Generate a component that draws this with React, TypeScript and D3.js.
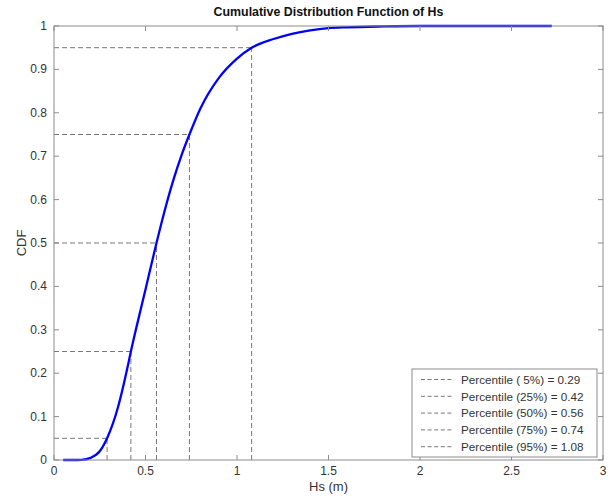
import React from "react";
import * as d3 from "d3";

// Empirical CDF of significant wave height Hs (m)
const hsValues = [0.05, 0.1, 0.15, 0.2, 0.25, 0.29, 0.35, 0.4, 0.42, 0.45, 0.5, 0.56, 0.6, 0.65, 0.7, 0.74, 0.8, 0.9, 1.0, 1.08, 1.2, 1.3, 1.4, 1.5, 1.6, 1.8, 2.0, 2.72];
const cdfValues = [0, 0, 0.0005, 0.005, 0.02, 0.05, 0.122, 0.21, 0.25, 0.305, 0.393, 0.5, 0.567, 0.642, 0.706, 0.75, 0.81, 0.88, 0.925, 0.95, 0.97, 0.982, 0.99, 0.995, 0.997, 0.999, 1.0, 1.0];

// Percentile markers
const percentileLevels = [0.05, 0.25, 0.5, 0.75, 0.95];
const percentileHs = [0.29, 0.42, 0.56, 0.74, 1.08];
const percentileLabels = ["Percentile ( 5%) = 0.29", "Percentile (25%) = 0.42", "Percentile (50%) = 0.56", "Percentile (75%) = 0.74", "Percentile (95%) = 1.08"];

const xTicks = [0, 0.5, 1, 1.5, 2, 2.5, 3];
const yTicks = [0, 0.1, 0.2, 0.3, 0.4, 0.5, 0.6, 0.7, 0.8, 0.9, 1];

const W = 611;
const H = 500;
const plot = { left: 54, right: 603, top: 26, bottom: 460 };

export default function App() {
  const x = d3.scaleLinear().domain([0, 3]).range([plot.left, plot.right]);
  const y = d3.scaleLinear().domain([0, 1]).range([plot.bottom, plot.top]);

  const points: [number, number][] = hsValues.map((h, i) => [h, cdfValues[i]]);
  const line = d3
    .line<[number, number]>()
    .x((d) => x(d[0]))
    .y((d) => y(d[1]))
    .curve(d3.curveMonotoneX);

  const axisColor = "#8c8c8c";
  const textColor = "#333";
  const dashColor = "#777";
  const font = "Liberation Sans, Arial, sans-serif";
  const tickLen = 5;

  const legend = { x: 412, y: 369, w: 185, h: 88 };
  const rowH = 16.8;

  return (
    <svg
      width={W}
      height={H}
      style={{ position: "absolute", left: 0, top: 0, background: "#fff" }}
      fontFamily={font}
    >
      <rect x={0} y={0} width={W} height={H} fill="#fff" />

      {/* percentile guide lines */}
      {percentileLevels.map((p, i) => (
        <g key={i} stroke={dashColor} strokeWidth={1} strokeDasharray="5,3" fill="none">
          <line x1={x(0)} x2={x(percentileHs[i])} y1={y(p)} y2={y(p)} />
          <line x1={x(percentileHs[i])} x2={x(percentileHs[i])} y1={y(0)} y2={y(p)} />
        </g>
      ))}

      {/* CDF curve */}
      <path d={line(points) || ""} fill="none" stroke="#0000ff" strokeWidth={2.3} />

      {/* frame */}
      <rect
        x={plot.left}
        y={plot.top}
        width={plot.right - plot.left}
        height={plot.bottom - plot.top}
        fill="none"
        stroke={axisColor}
        strokeWidth={1}
      />

      {/* x ticks */}
      {xTicks.map((t) => (
        <g key={"x" + t}>
          <line x1={x(t)} x2={x(t)} y1={plot.bottom} y2={plot.bottom - tickLen} stroke={axisColor} />
          <line x1={x(t)} x2={x(t)} y1={plot.top} y2={plot.top + tickLen} stroke={axisColor} />
          <text x={x(t)} y={plot.bottom + 15} textAnchor="middle" fontSize={12} fill={textColor}>
            {String(t)}
          </text>
        </g>
      ))}

      {/* y ticks */}
      {yTicks.map((t) => (
        <g key={"y" + t}>
          <line x1={plot.left} x2={plot.left + tickLen} y1={y(t)} y2={y(t)} stroke={axisColor} />
          <line x1={plot.right} x2={plot.right - tickLen} y1={y(t)} y2={y(t)} stroke={axisColor} />
          <text x={plot.left - 7} y={y(t) + 4} textAnchor="end" fontSize={12} fill={textColor}>
            {String(t)}
          </text>
        </g>
      ))}

      {/* titles */}
      <text x={(plot.left + plot.right) / 2} y={16} textAnchor="middle" fontSize={12.4} fontWeight="bold" fill="#111">
        Cumulative Distribution Function of Hs
      </text>
      <text x={(plot.left + plot.right) / 2} y={491} textAnchor="middle" fontSize={13} fill={textColor}>
        Hs (m)
      </text>
      <text
        transform={`translate(26, ${(plot.top + plot.bottom) / 2}) rotate(-90)`}
        textAnchor="middle"
        fontSize={13}
        fill={textColor}
      >
        CDF
      </text>

      {/* legend */}
      <rect x={legend.x} y={legend.y} width={legend.w} height={legend.h} fill="#fff" stroke={axisColor} />
      {percentileLabels.map((label, i) => {
        const cy = legend.y + 10.5 + i * rowH;
        return (
          <g key={"l" + i}>
            <line
              x1={legend.x + 9}
              x2={legend.x + 42}
              y1={cy}
              y2={cy}
              stroke={dashColor}
              strokeDasharray="4,2.6"
            />
            <text x={legend.x + 49} y={cy + 4.2} fontSize={11.7} fill={textColor}>
              {label}
            </text>
          </g>
        );
      })}
    </svg>
  );
}
